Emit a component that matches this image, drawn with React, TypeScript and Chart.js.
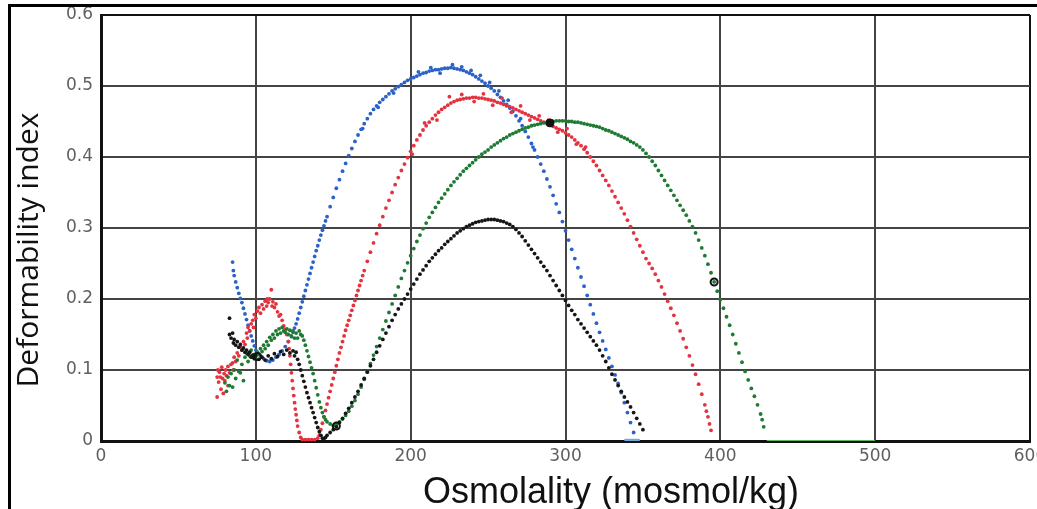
import { useEffect, useRef } from 'react';
import { Chart, registerables } from 'chart.js';

Chart.register(...registerables);

type Pt = [number, number];

const xTickValues = [0, 100, 200, 300, 400, 500, 600];
const yTickValues = [0, 0.1, 0.2, 0.3, 0.4, 0.5, 0.6];
const yTickLabels = ['0', '0.1', '0.2', '0.3', '0.4', '0.5', '0.6'];
const xTitle = 'Osmolality (mosmol/kg)';
const yTitle = 'Deformability index';

const blueData: Pt[] = [
  [85,0.252],[85.5,0.24],[86,0.233],[87,0.224],[88,0.216],[89,0.208],[90,0.201],[91,0.195],[92,0.187],[93,0.179],[94,0.171],[95,0.163],[96,0.155],[97,0.148],[98,0.141],[99,0.134],[100,0.128],[101,0.124],[103,0.12],[105,0.116],[107,0.113],[109,0.112],[111,0.114],[113,0.118],[115,0.122],[117,0.127],[119,0.133],[121,0.14],[123,0.147],[124,0.153],[125,0.159],[126,0.165],[127,0.172],[128,0.18],[129,0.188],[130,0.196],[131,0.204],[132,0.212],[133,0.22],[134,0.228],[135,0.236],[136,0.244],[137,0.252],[138,0.26],[139,0.268],[140,0.275],[141,0.283],[142,0.29],[143,0.297],[144,0.303],[145,0.31],[146,0.316],[148,0.33],[150,0.343],[152,0.356],[154,0.368],[156,0.38],[158,0.391],[160,0.402],[162,0.412],[164,0.422],[166,0.431],[168,0.439],[170,0.447],[172,0.454],[174,0.461],[176,0.467],[178,0.472],[180,0.477],[182,0.481],[184,0.485],[186,0.489],[188,0.493],[190,0.496],[192,0.499],[194,0.502],[196,0.505],[198,0.508],[200,0.51],[202,0.512],[204,0.514],[206,0.516],[208,0.518],[210,0.519],[212,0.521],[214,0.522],[216,0.523],[218,0.523],[220,0.524],[222,0.525],[224,0.525],[226,0.526],[228,0.525],[230,0.524],[232,0.523],[234,0.522],[236,0.52],[238,0.518],[240,0.516],[242,0.513],[244,0.51],[246,0.507],[248,0.504],[250,0.5],[252,0.497],[254,0.493],[256,0.488],[258,0.484],[260,0.479],[262,0.474],[264,0.469],[266,0.464],[268,0.458],[270,0.451],[272,0.444],[274,0.436],[276,0.428],[278,0.419],[280,0.41],[282,0.4],[284,0.39],[286,0.38],[288,0.369],[290,0.358],[292,0.346],[294,0.334],[296,0.322],[298,0.309],[300,0.296],[302,0.283],[304,0.27],[306,0.257],[308,0.244],[310,0.231],[312,0.218],[314,0.205],[316,0.192],[318,0.179],[320,0.166],[322,0.153],[324,0.141],[326,0.129],[328,0.117],[330,0.105],[332,0.093],[334,0.081],[336,0.068],[338,0.054],[340,0.04],[342,0.026],[344,0.012],
  [205,0.52],[213,0.526],[219,0.518],[227,0.53],[233,0.527],[239,0.522],[245,0.515],[251,0.505],[257,0.493],[263,0.48],[271,0.454],[279,0.414],[189,0.49],[179,0.47],[169,0.44]
];

const redData: Pt[] = [
  [75,0.062],[75,0.09],[75.5,0.1],[76,0.083],[76.5,0.097],[77,0.09],[77.5,0.073],[78,0.104],[78.5,0.088],[79,0.067],[79.5,0.095],[80,0.085],[80.5,0.1],[81,0.092],[82,0.078],[82,0.105],[83,0.096],[84,0.108],[85,0.11],[85.5,0.1],[86,0.118],[87,0.112],[88,0.124],[89,0.12],[90,0.133],[91,0.128],[92,0.14],[93,0.136],[94,0.152],[94.5,0.145],[95,0.16],[96,0.155],[97,0.165],[98,0.17],[98.5,0.16],[99,0.178],[100,0.173],[101,0.183],[102,0.188],[103,0.18],[104,0.192],[105,0.186],[106,0.197],[107,0.19],[107.5,0.2],[108,0.195],[109,0.2],[110,0.213],[110.5,0.19],[111,0.196],[112,0.188],[113,0.193],[114,0.182],[115,0.176],[116,0.178],[117,0.17],[118,0.162],[119,0.157],[120,0.15],[121,0.14],[121.5,0.13],[122,0.12],[122.5,0.108],[123,0.096],[123.5,0.085],[124,0.074],[124.5,0.064],[125,0.054],[125.5,0.045],[126,0.037],[126.5,0.029],[127,0.021],[128,0.012],[129,0.005],[130,0.002],[132,0.002],[134,0.002],[136,0.002],[138,0.002],[140,0.004],
  [141,0.008],[142,0.016],[143,0.025],[144,0.034],[145,0.043],[146,0.052],[147,0.061],[148,0.07],[149,0.079],[150,0.088],[151,0.097],[152,0.106],[153,0.115],[154,0.124],[155,0.132],[156,0.14],[157,0.148],[158,0.156],[159,0.163],[160,0.17],[161,0.177],[162,0.184],[163,0.191],[164,0.198],[165,0.205],[166,0.212],[167,0.219],[168,0.226],[169,0.233],[170,0.24],[172,0.253],[174,0.266],[176,0.279],[178,0.292],[180,0.304],[182,0.316],[184,0.328],[186,0.339],[188,0.35],[190,0.361],[192,0.371],[194,0.381],[196,0.39],[198,0.399],[200,0.408],[202,0.416],[204,0.424],[206,0.431],[208,0.438],[210,0.444],[212,0.449],[214,0.454],[216,0.459],[218,0.463],[220,0.467],[222,0.47],[224,0.473],[226,0.476],[228,0.478],[230,0.48],[232,0.481],[234,0.482],[236,0.483],[238,0.483],[240,0.484],[242,0.484],[244,0.483],[246,0.483],[248,0.482],[250,0.481],[252,0.48],[254,0.479],[256,0.477],[258,0.476],[260,0.474],[262,0.472],[264,0.471],[266,0.469],[268,0.467],[270,0.465],[272,0.463],[274,0.461],[276,0.459],[278,0.457],[280,0.455],[282,0.453],[284,0.451],[286,0.449],[288,0.447],[290,0.445],[292,0.443],[294,0.441],[296,0.439],[298,0.437],[300,0.434],[302,0.431],[304,0.428],[306,0.424],[308,0.42],[310,0.416],[312,0.411],[314,0.406],[316,0.4],[318,0.394],[320,0.388],[322,0.381],[324,0.374],[326,0.367],[328,0.36],[330,0.352],[332,0.344],[334,0.336],[336,0.328],[338,0.32],[340,0.311],[342,0.302],[344,0.293],[346,0.284],[348,0.275],[350,0.266],[352,0.257],[354,0.25],[356,0.243],[358,0.235],[360,0.226],[362,0.217],[364,0.207],[366,0.197],[368,0.187],[370,0.177],[372,0.166],[374,0.155],[376,0.144],[378,0.132],[380,0.12],[382,0.107],[384,0.094],[386,0.08],[388,0.066],[390,0.051],[391,0.042],[392,0.034],[393,0.024],[394,0.015],
  [225,0.485],[233,0.488],[241,0.478],[247,0.489],[253,0.473],[259,0.483],[265,0.463],[271,0.472],[277,0.452],[283,0.458],[289,0.452],[295,0.435],[301,0.44],[307,0.418],[313,0.414],[217,0.452],[209,0.448],[201,0.404]
];

const greenData: Pt[] = [
  [80,0.082],[81,0.07],[82,0.09],[83,0.078],[84,0.095],[85,0.076],[86,0.1],[87,0.088],[88,0.114],[89,0.098],[90,0.096],[91,0.108],[92,0.085],[93,0.118],[94,0.124],[95,0.112],[96,0.12],[97,0.128],[98,0.118],[99,0.122],[100,0.116],[101,0.125],[102,0.122],[103,0.13],[104,0.126],[105,0.135],[106,0.13],[107,0.14],[108,0.135],[109,0.146],[110,0.142],[111,0.15],[112,0.145],[113,0.155],[114,0.15],[115,0.158],[116,0.152],[117,0.16],[118,0.155],[119,0.153],[120,0.158],[121,0.15],[122,0.156],[123,0.148],[124,0.155],[125,0.145],[126,0.152],[127,0.145],[128,0.155],[129,0.15],[130,0.148],[131,0.142],[132,0.135],[133,0.127],[134,0.119],[135,0.111],[136,0.103],[137,0.095],[138,0.085],[139,0.075],[140,0.065],[141,0.055],[142,0.047],[143,0.04],[144,0.034],[145,0.03],[146,0.027],[148,0.024],[150,0.022],[152,0.023],[154,0.027],[156,0.031],[158,0.036],[160,0.042],[162,0.049],[164,0.057],[166,0.066],[168,0.076],[170,0.087],[172,0.098],[174,0.109],[176,0.121],[178,0.133],[180,0.145],[182,0.157],[184,0.169],[186,0.181],[188,0.193],[190,0.205],[192,0.217],[194,0.229],[196,0.24],[198,0.251],[200,0.261],[202,0.271],[204,0.281],[206,0.29],[208,0.299],[210,0.307],[212,0.315],[214,0.322],[216,0.329],[218,0.336],[220,0.342],[222,0.348],[224,0.354],[226,0.36],[228,0.365],[230,0.37],[232,0.375],[234,0.38],[236,0.384],[238,0.388],[240,0.392],[242,0.396],[244,0.4],[246,0.404],[248,0.407],[250,0.41],[252,0.414],[254,0.417],[256,0.42],[258,0.423],[260,0.426],[262,0.428],[264,0.431],[266,0.433],[268,0.435],[270,0.437],[272,0.439],[274,0.441],[276,0.442],[278,0.444],[280,0.445],[282,0.446],[284,0.447],[286,0.448],[288,0.449],[290,0.45],[292,0.45],[294,0.451],[296,0.451],[298,0.451],[300,0.451],[302,0.45],[304,0.45],[306,0.449],[308,0.449],[310,0.448],[312,0.447],[314,0.446],[316,0.445],[318,0.444],[320,0.443],[322,0.442],[324,0.44],[326,0.438],[328,0.437],[330,0.435],[332,0.433],[334,0.431],[336,0.429],[338,0.427],[340,0.425],[342,0.422],[344,0.42],[346,0.417],[348,0.414],[350,0.41],[352,0.405],[354,0.4],[356,0.394],[358,0.388],[360,0.381],[362,0.374],[364,0.367],[366,0.36],[368,0.353],[370,0.346],[372,0.339],[374,0.332],[376,0.325],[378,0.318],[380,0.31],[382,0.302],[384,0.293],[386,0.283],[388,0.272],[390,0.261],[392,0.249],[394,0.237],[396,0.224],[398,0.211],[400,0.199],[402,0.187],[404,0.175],[406,0.163],[408,0.15],[410,0.137],[412,0.124],[414,0.111],[416,0.098],[418,0.086],[420,0.074],[422,0.063],[424,0.051],[426,0.038],[427,0.03],[428,0.02]
];

const blackData: Pt[] = [
  [83,0.173],[83,0.15],[84,0.145],[85,0.152],[85.5,0.138],[86,0.143],[87,0.135],[88,0.14],[89,0.132],[90,0.136],[91,0.128],[92,0.131],[93,0.125],[94,0.128],[95,0.122],[96,0.125],[97,0.118],[98,0.121],[99,0.116],[100,0.12],[102,0.115],[104,0.118],[106,0.114],[108,0.12],[110,0.116],[112,0.123],[114,0.119],[116,0.126],[118,0.122],[120,0.128],[122,0.124],[124,0.127],[125,0.12],[126,0.125],[127,0.115],[128,0.108],[129,0.1],[130,0.092],[131,0.084],[132,0.076],[133,0.068],[134,0.061],[135,0.054],[136,0.047],[137,0.04],[138,0.033],[139,0.026],[140,0.019],[141,0.013],[142,0.008],[143,0.004],[144,0.003],[145,0.005],[146,0.008],[148,0.012],[150,0.016],[152,0.02],[154,0.026],[156,0.032],[158,0.039],[160,0.046],[162,0.054],[164,0.062],[166,0.07],[168,0.079],[170,0.088],[172,0.097],[174,0.106],[176,0.115],[178,0.125],[180,0.134],[182,0.143],[184,0.152],[186,0.161],[188,0.17],[190,0.178],[192,0.186],[194,0.193],[196,0.2],[198,0.207],[200,0.214],[202,0.221],[204,0.228],[206,0.235],[208,0.241],[210,0.247],[212,0.253],[214,0.258],[216,0.263],[218,0.268],[220,0.272],[222,0.277],[224,0.281],[226,0.285],[228,0.289],[230,0.293],[232,0.296],[234,0.299],[236,0.302],[238,0.304],[240,0.306],[242,0.308],[244,0.309],[246,0.31],[248,0.311],[250,0.312],[252,0.312],[254,0.312],[256,0.311],[258,0.31],[260,0.309],[262,0.307],[264,0.305],[266,0.302],[268,0.298],[270,0.293],[272,0.288],[274,0.282],[276,0.276],[278,0.27],[280,0.264],[282,0.258],[284,0.252],[286,0.246],[288,0.24],[290,0.233],[292,0.226],[294,0.219],[296,0.212],[298,0.205],[300,0.198],[302,0.191],[304,0.184],[306,0.178],[308,0.171],[310,0.165],[312,0.159],[314,0.153],[316,0.147],[318,0.141],[320,0.135],[322,0.128],[324,0.12],[326,0.112],[328,0.103],[330,0.094],[332,0.086],[334,0.078],[336,0.07],[338,0.062],[340,0.055],[342,0.048],[344,0.04],[346,0.032],[348,0.024],[350,0.016]
];

const ringMarkers: Pt[] = [[101, 0.119], [152, 0.021], [396, 0.224]];
const filledMarkers: Pt[] = [[290, 0.448]];
const greenZero: Pt[] = [[430, 0], [500, 0]];
const blueZero: Pt[] = [[338, 0.001], [348, 0.001]];

const toPts = (a: Pt[]) => a.map(([x, y]) => ({ x, y }));

const axisTitles = {
  id: 'axisTitles',
  afterDraw(chart: any) {
    const ctx = chart.ctx as CanvasRenderingContext2D;
    ctx.save();
    ctx.fillStyle = '#111';
    ctx.textAlign = 'center';
    ctx.textBaseline = 'alphabetic';
    ctx.font = '36px "Liberation Sans", Arial, sans-serif';
    ctx.fillText(xTitle, 611, 503);
    ctx.translate(38, 250);
    ctx.rotate(-Math.PI / 2);
    ctx.font = '30px "Open Sans", sans-serif';
    ctx.fillText(yTitle, 0, 0);
    ctx.restore();
  },
};

export default function App() {
  const ref = useRef<HTMLCanvasElement>(null);
  useEffect(() => {
    document.body.style.margin = '0';
    const dot = (data: Pt[], color: string) => ({
      data: toPts(data),
      backgroundColor: color,
      borderWidth: 0,
      pointRadius: 1.9,
      pointHoverRadius: 1.9,
      showLine: false,
      clip: false as any,
    });
    const chart = new Chart(ref.current!, {
      type: 'scatter',
      data: {
        datasets: [
          {
            data: toPts(filledMarkers),
            backgroundColor: '#111',
            borderColor: '#111',
            borderWidth: 1,
            pointRadius: 4,
            showLine: false,
          } as any,
          {
            data: toPts(ringMarkers),
            backgroundColor: 'rgba(255,255,255,0)',
            borderColor: '#111',
            borderWidth: 2,
            pointRadius: 3.5,
            showLine: false,
          } as any,
          dot(blackData, '#161616'),
          dot(greenData, '#1f7a33'),
          dot(redData, '#e5323f'),
          dot(blueData, '#2b62c8'),
          {
            type: 'line',
            data: toPts(greenZero),
            borderColor: '#5cb85c',
            borderWidth: 2,
            pointRadius: 0,
          } as any,
          {
            type: 'line',
            data: toPts(blueZero),
            borderColor: '#6fa8dc',
            borderWidth: 3,
            pointRadius: 0,
          } as any,
        ],
      },
      options: {
        animation: false,
        responsive: false,
        maintainAspectRatio: false,
        devicePixelRatio: 1,
        layout: { padding: { top: 15, right: 7, left: 0, bottom: 0 } },
        plugins: { legend: { display: false }, tooltip: { enabled: false } },
        scales: {
          x: {
            type: 'linear',
            min: 0,
            max: 600,
            afterBuildTicks: (s: any) => {
              s.ticks = xTickValues.map((v) => ({ value: v }));
            },
            afterFit: (s: any) => {
              s.height = 68;
              s.paddingLeft = 0;
              s.paddingRight = 0;
            },
            ticks: {
              padding: 5,
              color: '#606060',
              maxRotation: 0,
              autoSkip: false,
              font: { family: '"DejaVu Sans", sans-serif', size: 17 },
              callback: (v: any) => String(v),
            },
            grid: {
              drawTicks: false,
              lineWidth: 2,
              color: (c: any) => (c.tick && c.tick.value >= 600 ? '#111' : '#444'),
            },
            border: { display: true, color: '#111', width: 3 },
          },
          y: {
            type: 'linear',
            min: 0,
            max: 0.6,
            afterBuildTicks: (s: any) => {
              s.ticks = yTickValues.map((v) => ({ value: v }));
            },
            afterFit: (s: any) => {
              s.width = 101;
              s.paddingTop = 0;
              s.paddingBottom = 0;
            },
            ticks: {
              padding: 8,
              color: '#606060',
              autoSkip: false,
              font: { family: '"DejaVu Sans", sans-serif', size: 17 },
              callback: (v: any) => {
                const i = yTickValues.findIndex((t) => Math.abs(t - v) < 1e-6);
                return i >= 0 ? yTickLabels[i] : '';
              },
            },
            grid: {
              drawTicks: false,
              lineWidth: 2,
              color: (c: any) => (c.tick && c.tick.value >= 0.599 ? '#111' : '#444'),
            },
            border: { display: true, color: '#111', width: 3 },
          },
        },
      },
      plugins: [axisTitles],
    });
    return () => chart.destroy();
  }, []);
  return (
    <div style={{ position: 'relative', width: 1037, height: 509, overflow: 'hidden', background: '#fff' }}>
      <canvas ref={ref} width={1037} height={509} style={{ display: 'block' }} />
      <div
        style={{
          position: 'absolute',
          left: 8,
          top: 4,
          width: 1100,
          height: 600,
          borderLeft: '3px solid #000',
          borderTop: '3px solid #000',
          pointerEvents: 'none',
        }}
      />
    </div>
  );
}
